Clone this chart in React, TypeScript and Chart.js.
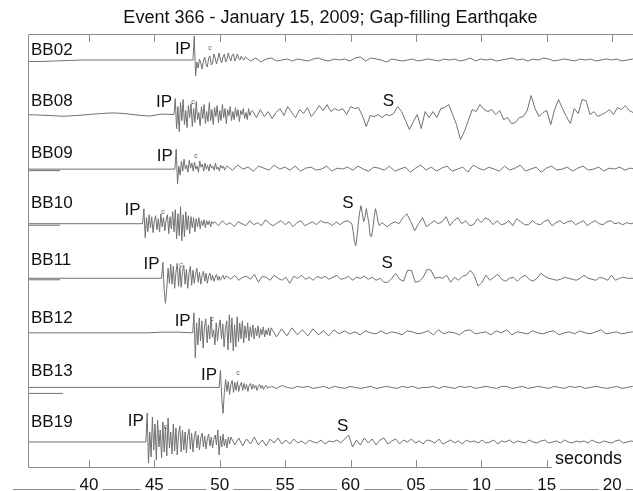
import React, { useEffect, useRef } from 'react';
import { Chart, registerables } from 'chart.js';
Chart.register(...registerables);

const TITLE = 'Event 366 - January 15, 2009; Gap-filling Earthqake';
const stations = ['BB02', 'BB08', 'BB09', 'BB10', 'BB11', 'BB12', 'BB13', 'BB19'];
// P onset times (s)
const onsets = [47.95, 46.5, 46.57, 44.1, 45.55, 47.93, 49.95, 44.35];
// S pick times (s)
const sPicks: (number | null)[] = [null, 62.9, null, 59.8, 62.8, null, null, 59.4];
// small "c" marks (s)
const cMarks = [49.25, 47.95, 48.18, 45.66, 47.03, 49.4, 51.4, 45.85];

const tickValues = [40, 45, 50, 55, 60, 65, 70, 75, 80];
const tickLabels = ['40', '45', '50', '55', '60', '05', '10', '15', '20'];

const X_MIN = 35.34;
const X_MAX = 81.59;

// ---- waveform amplitudes (pre-event, then segments sampled every dt seconds) ----
const bb02Pre = [-1.5, -1.5, -1, -0.5, 0, 0, 0, 0, 0, 0, 0, 0];
const bb02P = [0, 24, -16, -2, -8, 1, -3, -9, -1, 3, -4, -7, 2, 4, -5, -3, 6, 2, -4, 1, 7, 0, -3, 3, 6, -2, 1, 7, 2, -1, 5, 6, -1, 2, 6, 1, 0, 4, 1, 0];
const bb02Coda = [3, -1, 2, -2, 1, 2, -1, 0, 1, -1, 1, 0, -1, 1, 2, 0, -1, 1, 0, 1, -1, 2, 3, -1, 2, 1, 0, -2, 1, 0, -1, 0, 1, -1, 0, 1, 0, -1, 1, 0, 1, -1, 0, 2, -1, 1, 0, 1, -1, 0, 1, 2, 0, 1, -1, 1, 0, 2, 1, -1, 0, 1, 0, -1, 1, 0, 1, -1, 0, 1, 0, 1, -1, 0, 1, 0, -1, 1];

const bb08Pre = [0, -0.5, -1, -1.7, -1, 0, 1, 1.7, 1, -0.5, -1.5, 0.5];
const bb08P = [0, 16, -14, 8, -17, 12, -6, 15, -10, 4, -13, 9, -3, 11, -12, 6, -8, 13, -5, 2, -11, 8, -4, 10, -9, 3, -7, 12, -6, 5, -10, 7, -2, 9, -8, 4, -6, 10, -3, 6, -9, 5, -1, 8, -6, 3, -5, 7, -2, 5, -7, 4, 0, 6, -4, 2, -5, 6, -1, 3];
const bb08Coda = [4, -3, 5, -2, 3, -4, 2, 6, -1, 8, 2, -3, 5, 1, 7, -2, 3, 9, 4, 10, 3, 6, 4, 6, 0, 8, 6, 7, -1, -12, -1, -2, 0, -3, 0, -1, 1, 8, 3, -6, -15, -7, 0, -14, 3, -3, 3, -3, 6, 7, 10, 0, -10, -25, -17, -6, 5, 3, 10, 5, 3, 5, 0, 4, -5, -3, -9, -8, -3, -2, 4, 19, 6, -2, 2, 4, -10, 5, 15, 6, -2, -9, 6, 1, 15, 14, 0, 3, -2, 0, 2, 5, 0, 7, 5, 9, 4, 2, 3, 1];

const bb09Pre = [0];
const bb09P = [0, 20, -15, 3, -6, 8, -2, 10, 0, 4, -3, 9, 1, 6, -2, 7, 0, 3, -3, 8, 2, 5, -2, 6, 0, 4, -2, 5, 1, 3, -1, 6, 0, 2, -2, 4, 1, 3, -1, 2];
const bb09Coda = [3, -1, 4, 0, 2, -2, 3, 1, -1, 4, 0, 2, -1, 3, -2, 1, 2, -1, 0, 3, -2, 1, 0, 2, -1, 3, 0, -2, 2, 1, -1, 3, -2, 0, 2, -3, 1, 4, -1, 2, -2, 1, 3, -2, 0, 2, -3, 4, 1, -1, 2, 0, -2, 3, -1, 1, 4, -2, 0, 2, -3, 1, 3, -1, 0, 2, -2, 1, 3, -1, 0, 2, -2, 1, 0, 2, -1, 1, 0, 2, -1];

const bb10Pre = [0];
const bb10P = [0, 15, -14, 6, -8, 9, -4, 7, -9, 3, 8, -6, 5, -8, 10, -3, 6, -7, 4, 9, -10, 7, -5, 12, -8, 14, -15, 10, -12, 17, -17, 9, -13, 12, -6, 8, -10, 7, -4, 6, -8, 5, -3, 6, -5, 3, -2, 4, -4, 3, -1, 3, -3, 2, 0];
const bb10Coda1 = [2, -2, 3, -1, 1, -3, 2, 0, -2, 3, -1, 1, -2, 4, 0, -2, 1, 3, -1, 2, -3, 1, 3, -2, 0, 2, -1, 3, 1, 1, -2, 2, -1, 2, 3];
const bb10S = [0, -8, -18, -22, -12, 2, 12, 18, 10, 2, 6, 15, 8, 0, -12, -13, -5, 6, 15, 10, 2, -2, 0, 1];
const bb10Coda2 = [0, -3, 0, 2, 0, 6, 10, 2, -7, 0, 6, -3, 0, 3, 0, 2, 7, -2, 3, 6, 0, 3, -2, -1, 5, 1, 6, 4, -1, 3, -1, 0, 3, -2, 5, 2, -1, -1, 3, 0, -1, 2, 4, -2, 1, 3, 0, 2, 3, -1, 1, 3, -2, 1, 3, 0, -1, 2, 3, 0, 1, -1, 1, 0, 1, 0, 1];

const bb11Pre = [0];
const bb11P = [0, 16, -12, -25, -10, 10, -5, 14, -6, 12, -10, 6, 15, -8, 11, -9, 7, 13, -6, 9, -10, 5, 12, -7, 8, -5, 4, 10, -4, 6, -6, 3, 7, -3, 5, -5, 2, 5, -2, 3, -3, 1, 4, -2, 2, -2, 1, 3, -1, 2];
const bb11Coda = [2, -1, 3, -2, 1, 2, -1, 4, -4, 2, 1, -2, 3, 0, -2, 1, -5, 2, 0, 3, -1, 1, -2, 2, 0, 2, -1, 1, 3, -1, 0, 2, -2, 1, 0, 2, -1, 1, -2, 0, -4, -4, 0, 5, -1, -3, 8, 8, -4, -3, 1, 9, 8, 0, 1, 0, 3, -4, 1, -2, 2, 3, 8, 3, -8, -4, 3, -2, 1, 4, -1, -3, 0, 1, -3, 1, 3, -1, -3, 0, 5, 2, 0, -1, -2, -1, 1, 0, -1, -2, 0, 3, 0, -1, -2, 1, 0, -2, 3, -2, 0, 1, 0, 0, 0];

const bb12Pre = [0, 0, 0, 0, 0, 0, 0, 0, 0, 0.7, 0.7];
const bb12P = [0, 20, -25, 10, -12, 15, -8, 12, -15, 6, 14, -10, 8, -6, 16, -4, 3, -12, 10, -8, 5, 13, -6, 9, -14, 4, 12, -17, 18, -10, 15, -18, 8, -14, 16, -9, 10, -6, 12, -10, 7, -5, 10, -8, 6, -4, 8, -6, 5, -3, 7, -5, 4, -2, 6, -4, 3, -2, 5, -3];
const bb12Coda = [5, -4, 4, -3, 5, -2, 3, -3, 4, -2, 2, -3, 3, -1, 2, -1, 1, -2, 2, 0, -1, 2, -1, 1, 0, -2, 2, 1, -1, 0, 2, -2, 3, -1, 1, 0, -2, 2, 3, -1, 0, 1, -2, 2, 0, 3, -2, 1, 0, -1, 2, 0, -1, 1, 2, -2, 0, 1, -1, 2, 0, -1, 1, 3, -1, 0, 1, -1, 0, 1, 0, 1, -1, 0];

const bb13Pre = [0];
const bb13P = [0, 17, -10, -26, -5, 8, -4, 6, -7, 3, 7, -5, 5, -3, 6, -4, 2, 5, -3, 4, -2, 3, -4, 2, 4, -2, 3, -1, 2, -3, 1, 3, -1, 2, -2, 1, 2, -1, 1, 0];
const bb13Coda = [1, -1, 2, 0, -1, 1, 0, 1, -1, 0, 1, -1, 1, 0, -1, 1, 0, -1, 0, 1, -1, 0, 1, 0, -1, 1, 0, 1, -1, 0, 0, 1, -1, 1, 0, -1, 1, 0, 1, -1, 0, 1, 0, -1, 1, 1, -1, 0, 1, -1, 0, 1, 0, -1, 1, 0, -1, 1, 0, 1, -1, 0, 1, 0, -1, 0, 1, -1, 0, 1, 0, 1, 0];

const bb19Pre = [0];
const bb19P = [0, 29, -21, 10, -15, 25, -8, 18, -18, 22, -5, 12, -16, 20, -10, 15, -14, 24, -6, 10, -12, 18, -9, 14, -13, 8, 16, -10, 12, -8, 10, -11, 6, 13, -7, 9, -10, 5, 11, -6, 7, -8, 4, 9, -5, 6, -7, 3, 8, -4, 5, -6, 3, 7, -3, 12, -13, 6, -5, 8, -4, 3, -6, 5, -2];
const bb19Coda = [5, -3, 4, -4, 3, -2, 5, -3, 2, -4, 3, -1, 4, -2, 2, -2, 3, -1, 1, -2, 2, 0, -1, 2, -2, 1, 0, 2, -1, 3, 7, -5, 2, -3, 4, -1, 3, -3, 2, 4, -2, 1, 3, -2, 2, 0, 3, -1, 1, -2, 2, 1, -1, 3, -2, 0, 2, -1, 1, -2, 2, 0, 1, -1, 2, -1, 0, 2, -2, 1, 0, 2, -1, 1, 0, -1, 2, 0, -1, 1, 2, -1, 0, 1, -1, 2, 0, -1, 1, 0, 1, -1, 2, 0, -1, 1, 0, -1, 1, 2, -1, 0, 1, 0, 1, 0];

const preEvent = [bb02Pre, bb08Pre, bb09Pre, bb10Pre, bb11Pre, bb12Pre, bb13Pre, bb19Pre];
// [values, sample interval s]; each segment starts where the previous one ends
const segments: [number[], number][][] = [
  [[bb02P, 0.1], [bb02Coda, 0.4]],
  [[bb08P, 0.1], [bb08Coda, 0.3]],
  [[bb09P, 0.1], [bb09Coda, 0.4]],
  [[bb10P, 0.1], [bb10Coda1, 0.3], [bb10S, 0.1], [bb10Coda2, 0.3]],
  [[bb11P, 0.1], [bb11Coda, 0.3]],
  [[bb12P, 0.1], [bb12Coda, 0.4]],
  [[bb13P, 0.1], [bb13Coda, 0.4]],
  [[bb19P, 0.1], [bb19Coda, 0.3]],
];

// short doubled stubs at the left edge
const stubStations = [2, 3, 4, 6];
const stubEnd = [37.8, 37.8, 37.8, 38.0];
const stubDrop = [1.5, 1.5, 1.5, 6];

// layout constants (px)
const SPACING = 54.57;
const stationLift = [10, 13.5, 15.5, 20, 18, 15, 16, 19.5];
const ipLift = [11, 12.5, 13, 13, 14, 12, 12.5, 20.5];
const sLift = [0, 13.5, 0, 20, 14.8, 0, 0, 16];
const cLift = [12, 13, 13, 12, 13, 14, 14, 15];

const FONT = '"Liberation Sans", Arial, Helvetica, sans-serif';
const LINE = '#707070';

function buildTrace(k: number) {
  const base = -SPACING * k;
  const pts: { x: number; y: number }[] = [];
  const pre = preEvent[k];
  const on = onsets[k];
  const step = (on - (X_MIN - 0.1)) / pre.length;
  pre.forEach((v, i) => pts.push({ x: X_MIN - 0.1 + i * step, y: base + v }));
  let t0 = on;
  segments[k].forEach(([vals, dt]) => {
    vals.forEach((v, i) => pts.push({ x: t0 + i * dt, y: base + v }));
    t0 += vals.length * dt;
  });
  return pts;
}

const decoPlugin = {
  id: 'deco',
  afterDraw(chart: any) {
    const { ctx, chartArea: a, scales } = chart;
    const xs = scales.x;
    const ys = scales.y;
    const W = chart.width;
    ctx.save();
    // title
    ctx.fillStyle = '#111';
    ctx.font = `18px ${FONT}`;
    ctx.textAlign = 'center';
    ctx.textBaseline = 'middle';
    ctx.fillText(TITLE, (a.left + a.right) / 2, 18);

    // frame
    ctx.strokeStyle = '#8c8c8c';
    ctx.lineWidth = 1;
    ctx.beginPath();
    ctx.moveTo(W, a.top + 0.5);
    ctx.lineTo(a.left + 0.5, a.top + 0.5);
    ctx.lineTo(a.left + 0.5, a.bottom + 0.5);
    ctx.lineTo(W, a.bottom + 0.5);
    ctx.stroke();
    ctx.beginPath();
    tickValues.forEach((v) => {
      const px = Math.round(xs.getPixelForValue(v)) + 0.5;
      ctx.moveTo(px, a.top);
      ctx.lineTo(px, a.top + 8);
      ctx.moveTo(px, a.bottom);
      ctx.lineTo(px, a.bottom - 7);
    });
    ctx.stroke();

    // underline beneath tick labels
    ctx.beginPath();
    ctx.moveTo(13, 489.5);
    ctx.lineTo(W, 489.5);
    ctx.stroke();

    ctx.font = `17px ${FONT}`;
    ctx.textBaseline = 'alphabetic';
    tickValues.forEach((v, i) => {
      const px = xs.getPixelForValue(v);
      const w = ctx.measureText(tickLabels[i]).width;
      ctx.fillStyle = '#fff';
      ctx.fillRect(px - w / 2 - 4, 474, w + 8, 17);
      ctx.fillStyle = '#111';
      ctx.fillText(tickLabels[i], px, 490);
    });

    // "seconds"
    ctx.font = `18px ${FONT}`;
    ctx.textAlign = 'left';
    ctx.textBaseline = 'middle';
    const sw = ctx.measureText('seconds').width;
    ctx.fillStyle = '#fff';
    ctx.fillRect(552, 449, W - 552, 20);
    ctx.fillStyle = '#111';
    ctx.fillText('seconds', 555, 459);
    void sw;

    // station, phase labels
    stations.forEach((name, k) => {
      const base = -SPACING * k;
      ctx.font = `17px ${FONT}`;
      ctx.fillStyle = '#111';
      ctx.textAlign = 'left';
      ctx.textBaseline = 'middle';
      ctx.fillText(name, 31, ys.getPixelForValue(base + stationLift[k]));
      ctx.textAlign = 'right';
      ctx.fillText('IP', xs.getPixelForValue(onsets[k]) - 2, ys.getPixelForValue(base + ipLift[k]));
      const s = sPicks[k];
      if (s !== null) {
        ctx.textAlign = 'center';
        ctx.fillText('S', xs.getPixelForValue(s), ys.getPixelForValue(base + sLift[k]));
      }
      ctx.font = `7px ${FONT}`;
      ctx.fillStyle = '#555';
      ctx.textAlign = 'center';
      ctx.fillText('c', xs.getPixelForValue(cMarks[k]), ys.getPixelForValue(base + cLift[k]));
    });
    ctx.restore();
  },
};

export default function App() {
  const ref = useRef<HTMLCanvasElement>(null);
  useEffect(() => {
    const datasets: any[] = stations.map((name, k) => ({
      label: name,
      data: buildTrace(k),
      borderColor: LINE,
      borderWidth: 1,
      pointRadius: 0,
      fill: false,
      tension: 0,
    }));
    stubStations.forEach((k, i) => {
      const y = -SPACING * k - stubDrop[i];
      datasets.push({
        label: stations[k] + ' stub',
        data: [
          { x: X_MIN, y },
          { x: stubEnd[i], y },
        ],
        borderColor: LINE,
        borderWidth: 1,
        pointRadius: 0,
        fill: false,
      });
    });
    const chart = new Chart(ref.current as HTMLCanvasElement, {
      type: 'line',
      data: { datasets },
      options: {
        animation: false,
        responsive: false,
        events: [],
        layout: { padding: { left: 28, top: 34, right: 0, bottom: 24 } },
        scales: {
          x: { type: 'linear', min: X_MIN, max: X_MAX, display: false },
          y: { type: 'linear', min: -407, max: 26, display: false },
        },
        plugins: { legend: { display: false }, tooltip: { enabled: false }, title: { display: false } },
      },
      plugins: [decoPlugin],
    });
    return () => chart.destroy();
  }, []);
  return (
    <div style={{ position: 'fixed', left: 0, top: 0, width: 633, height: 491, background: '#fff', overflow: 'hidden' }}>
      <canvas ref={ref} width={633} height={491} style={{ display: 'block', width: 633, height: 491 }} />
    </div>
  );
}
